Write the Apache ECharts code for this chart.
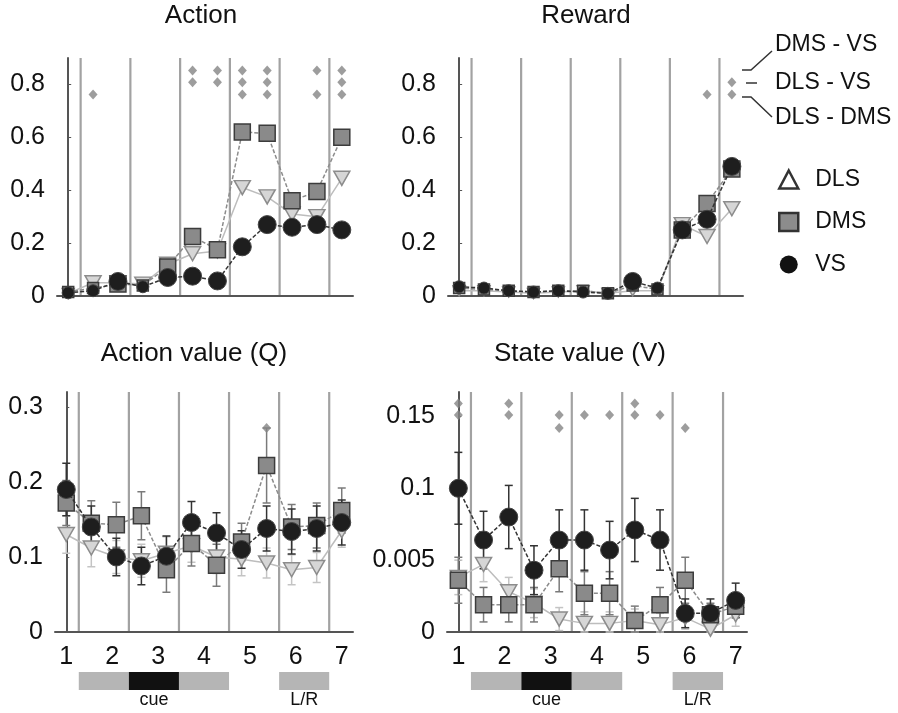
<!DOCTYPE html>
<html>
<head>
<meta charset="utf-8">
<script src="https://cdn.jsdelivr.net/npm/echarts@6.0.0/dist/echarts.min.js"></script>
<style>
html,body{margin:0;padding:0;background:#fff}
#main{width:898px;height:713px}
</style>
</head>
<body>
<div id="main"></div>
<script>
// time bins (12 half-epochs) and the epoch tick labels underneath
var steps = [0, 1, 2, 3, 4, 5, 6, 7, 8, 9, 10, 11];
var tickLabels = ['1', '2', '3', '4', '5', '6', '7'];
var epochLines = [0.5, 2.5, 4.5, 6.5, 8.5, 10.5];

// Action
var actVS  = [0.012, 0.02, 0.055, 0.035, 0.07, 0.075, 0.057, 0.186, 0.27, 0.26, 0.27, 0.25];
var actDMS = [0.015, 0.03, 0.045, 0.04, 0.11, 0.225, 0.175, 0.62, 0.615, 0.36, 0.395, 0.60];
var actDLS = [0.01, 0.05, 0.05, 0.045, 0.12, 0.16, 0.17, 0.41, 0.375, 0.31, 0.30, 0.445];
var actSig = [[1, 0.762], [5, 0.853], [5, 0.808], [6, 0.853], [6, 0.808], [7, 0.853], [7, 0.808], [7, 0.762],
              [8, 0.853], [8, 0.808], [8, 0.762], [10, 0.853], [10, 0.762], [11, 0.853], [11, 0.808], [11, 0.762]];

// Reward
var rewVS  = [0.035, 0.03, 0.02, 0.015, 0.02, 0.015, 0.01, 0.055, 0.03, 0.25, 0.29, 0.49];
var rewDMS = [0.03, 0.025, 0.02, 0.015, 0.02, 0.02, 0.01, 0.04, 0.025, 0.25, 0.35, 0.48];
var rewDLS = [0.02, 0.02, 0.015, 0.01, 0.015, 0.02, 0.01, 0.02, 0.02, 0.27, 0.225, 0.33];
var rewSig = [[10, 0.762], [11, 0.808], [11, 0.762]];

// Action value (Q)
var qVS     = [0.190, 0.140, 0.100, 0.088, 0.101, 0.146, 0.132, 0.110, 0.138, 0.134, 0.138, 0.146];
var qVSerr  = [0.035, 0.028, 0.025, 0.025, 0.027, 0.028, 0.027, 0.025, 0.03, 0.03, 0.03, 0.03];
var qDMS    = [0.172, 0.145, 0.143, 0.155, 0.083, 0.118, 0.089, 0.12, 0.222, 0.14, 0.142, 0.162];
var qDMSerr = [0.03, 0.03, 0.03, 0.032, 0.03, 0.03, 0.028, 0.025, 0.05, 0.03, 0.03, 0.03];
var qDLS    = [0.13, 0.112, 0.10, 0.095, 0.105, 0.115, 0.10, 0.097, 0.092, 0.083, 0.086, 0.135];
var qDLSerr = [0.025, 0.025, 0.022, 0.022, 0.022, 0.022, 0.022, 0.022, 0.02, 0.02, 0.02, 0.022];
var qSig    = [[8, 0.272]];

// State value (V)
var vVS     = [0.100, 0.064, 0.080, 0.043, 0.064, 0.064, 0.057, 0.071, 0.064, 0.013, 0.013, 0.022];
var vVSerr  = [0.025, 0.02, 0.022, 0.017, 0.021, 0.021, 0.02, 0.022, 0.021, 0.01, 0.01, 0.012];
var vDMS    = [0.036, 0.019, 0.019, 0.019, 0.044, 0.027, 0.027, 0.008, 0.019, 0.036, 0.012, 0.018];
var vDMSerr = [0.016, 0.012, 0.012, 0.012, 0.016, 0.015, 0.015, 0.01, 0.012, 0.016, 0.008, 0.008];
var vDLS    = [0.038, 0.047, 0.028, 0.02, 0.009, 0.006, 0.006, 0.008, 0.005, 0.01, 0.002, 0.012];
var vDLSerr = [0.012, 0.012, 0.01, 0.01, 0.008, 0.008, 0.008, 0.008, 0.008, 0.008, 0.006, 0.008];
var vSig    = [[0, 0.159], [0, 0.151], [2, 0.159], [2, 0.151], [4, 0.151], [4, 0.142], [5, 0.151],
               [6, 0.151], [7, 0.159], [7, 0.151], [8, 0.151], [9, 0.142]];
var vTickLabels = ['0', '0.005', '0.1', '0.15'];

// task events under the bottom panels
var barStart  = [0.5, 2.5, 4.5, 8.5];
var barEnd    = [2.5, 4.5, 6.5, 10.5];
var barColor  = ['#b5b5b5', '#111111', '#b5b5b5', '#b5b5b5'];
var barLabel  = ['', 'cue', '', 'L/R'];

var FONT = 'Liberation Sans';
var triDown = 'path://M0,0 L10,0 L5,9 Z';

var grids = [
    {left: 57, top: 58, width: 296, height: 238},
    {left: 448, top: 58, width: 295, height: 238},
    {left: 55, top: 392, width: 298, height: 240},
    {left: 447, top: 392, width: 300, height: 240}
];
var yMax = [0.9, 0.9, 0.32, 0.167];
var yStep = [0.2, 0.2, 0.1, 0.05];

function pts(vals) {
    return steps.map(function (k, i) { return [k, vals[i]]; });
}

// markers in the top panels are drawn smaller when they sit on the floor
function sizeFor(gi, big, small) {
    if (gi >= 2) return big;
    return function (val) { return val[1] < 0.045 ? small : big; };
}

var xAxes = grids.map(function (g, i) {
    var bottom = i >= 2;
    return {
        type: 'value', gridIndex: i, min: -0.45, max: 11.45,
        axisLine: {show: true, onZero: false, lineStyle: {color: '#555', width: 2}},
        axisTick: {show: false},
        splitLine: {show: false},
        axisLabel: {
            show: bottom,
            customValues: tickLabels.map(function (t, j) { return j * 11 / 6; }),
            formatter: function (v) { return tickLabels[Math.round(v * 6 / 11)]; },
            fontSize: 25, fontFamily: FONT, color: '#111', margin: 13
        }
    };
});

var yAxes = grids.map(function (g, i) {
    return {
        type: 'value', gridIndex: i, min: 0, max: yMax[i], interval: yStep[i],
        axisLine: {show: true, lineStyle: {color: '#555', width: 2}},
        axisTick: {show: true, inside: true, length: 3, lineStyle: {color: '#555'}},
        splitLine: {show: false},
        axisLabel: {
            showMaxLabel: false,
            fontSize: 25, fontFamily: FONT, color: '#111', margin: 12,
            formatter: i === 3 ? function (v) { return vTickLabels[Math.round(v / 0.05)]; } : null
        }
    };
});

function gridLineSeries(gi) {
    return {
        type: 'custom', xAxisIndex: gi, yAxisIndex: gi, silent: true, z: 0,
        data: epochLines.map(function (v) { return [v, 0]; }),
        encode: {x: 0, y: 1},
        renderItem: function (params, api) {
            var x = api.coord([api.value(0), 0])[0];
            var cs = params.coordSys;
            return {type: 'line', shape: {x1: x, y1: cs.y, x2: x, y2: cs.y + cs.height},
                    style: {stroke: '#a2a2a2', lineWidth: 2.2}};
        }
    };
}

function errSeries(gi, vals, errs, color) {
    return {
        type: 'custom', xAxisIndex: gi, yAxisIndex: gi, silent: true, z: 1,
        data: steps.map(function (k, i) { return [k, vals[i], errs[i]]; }),
        encode: {x: 0, y: 1},
        renderItem: function (params, api) {
            var x = api.value(0), y = api.value(1), e = api.value(2);
            var hi = api.coord([x, y + e]), lo = api.coord([x, Math.max(0, y - e)]);
            var w = 4, st = {stroke: color, lineWidth: 1.5};
            return {type: 'group', children: [
                {type: 'line', shape: {x1: hi[0], y1: hi[1], x2: lo[0], y2: lo[1]}, style: st},
                {type: 'line', shape: {x1: hi[0] - w, y1: hi[1], x2: hi[0] + w, y2: hi[1]}, style: st},
                {type: 'line', shape: {x1: lo[0] - w, y1: lo[1], x2: lo[0] + w, y2: lo[1]}, style: st}
            ]};
        }
    };
}

function dls(gi, vals) {
    return {
        name: 'DLS', type: 'line', xAxisIndex: gi, yAxisIndex: gi, z: 2,
        data: pts(vals), symbol: triDown,
        symbolSize: gi >= 2 ? [16, 14] : function (v) { return v[1] < 0.045 ? [12, 10] : [16, 14]; },
        lineStyle: {color: '#bdbdbd', width: 1.5},
        itemStyle: {color: '#d6d6d6', borderColor: '#8c8c8c', borderWidth: 1.5}
    };
}
function dms(gi, vals) {
    return {
        name: 'DMS', type: 'line', xAxisIndex: gi, yAxisIndex: gi, z: 3,
        data: pts(vals), symbol: 'rect', symbolSize: sizeFor(gi, 16, 11),
        lineStyle: {color: '#8c8c8c', width: 1.5, type: [4, 2]},
        itemStyle: {color: '#8a8a8a', borderColor: '#3c3c3c', borderWidth: 1.5}
    };
}
function vs(gi, vals) {
    return {
        name: 'VS', type: 'line', xAxisIndex: gi, yAxisIndex: gi, z: 4,
        data: pts(vals), symbol: 'circle', symbolSize: sizeFor(gi, 18, 12),
        lineStyle: {color: '#333', width: 1.5, type: [4, 2]},
        itemStyle: {color: '#1e1e1e', borderColor: '#444', borderWidth: 1}
    };
}
function sig(gi, list) {
    return {
        type: 'scatter', xAxisIndex: gi, yAxisIndex: gi, z: 5, silent: true,
        data: list, symbol: 'diamond', symbolSize: [9, 10],
        itemStyle: {color: '#858585'}
    };
}
function eventBars(gi) {
    return {
        type: 'custom', xAxisIndex: gi, yAxisIndex: gi, silent: true, clip: false,
        data: barStart.map(function (s, i) { return [s, barEnd[i]]; }),
        encode: {x: [0, 1]},
        renderItem: function (params, api) {
            var i = params.dataIndex;
            var p1 = api.coord([barStart[i], 0]), p2 = api.coord([barEnd[i], 0]);
            var top = p1[1] + 40, h = 18;
            var kids = [{type: 'rect', shape: {x: p1[0], y: top, width: p2[0] - p1[0], height: h},
                         style: {fill: barColor[i]}}];
            if (barLabel[i]) {
                kids.push({type: 'text', style: {text: barLabel[i], x: (p1[0] + p2[0]) / 2, y: top + h + 1,
                    align: 'center', verticalAlign: 'top', fontSize: 18, fontFamily: FONT, fill: '#111'}});
            }
            return {type: 'group', children: kids};
        }
    };
}

var series = [
    gridLineSeries(0), dls(0, actDLS), dms(0, actDMS), vs(0, actVS), sig(0, actSig),
    gridLineSeries(1), dls(1, rewDLS), dms(1, rewDMS), vs(1, rewVS), sig(1, rewSig),
    gridLineSeries(2), errSeries(2, qDLS, qDLSerr, '#c4c4c4'), errSeries(2, qDMS, qDMSerr, '#7a7a7a'),
    errSeries(2, qVS, qVSerr, '#333'), dls(2, qDLS), dms(2, qDMS), vs(2, qVS), sig(2, qSig), eventBars(2),
    gridLineSeries(3), errSeries(3, vDLS, vDLSerr, '#c4c4c4'), errSeries(3, vDMS, vDMSerr, '#7a7a7a'),
    errSeries(3, vVS, vVSerr, '#333'), dls(3, vDLS), dms(3, vDMS), vs(3, vVS), sig(3, vSig), eventBars(3)
];

function label(text, x, y, size) {
    return {type: 'text', x: x, y: y, silent: true,
            style: {text: text, align: 'left', verticalAlign: 'middle', fontSize: size, fontFamily: FONT, fill: '#111'}};
}
function title(text, x, y) {
    return {type: 'text', x: x, y: y, silent: true,
            style: {text: text, align: 'center', verticalAlign: 'middle', fontSize: 26, fontFamily: FONT, fill: '#111'}};
}
var bracket = {stroke: '#333', lineWidth: 1.5, fill: null};

var option = {
    animation: false,
    backgroundColor: '#fff',
    grid: grids,
    xAxis: xAxes,
    yAxis: yAxes,
    legend: {
        orient: 'vertical', left: 773, top: 163,
        itemWidth: 19, itemHeight: 18, itemGap: 19.5,
        textStyle: {fontSize: 23, fontFamily: FONT, color: '#111', lineHeight: 18, padding: [0, 0, 0, 12]},
        data: [
            {name: 'DLS', icon: 'triangle', itemStyle: {color: '#fff', borderColor: '#333', borderWidth: 2.5}},
            {name: 'DMS', icon: 'rect', itemStyle: {color: '#8c8c8c', borderColor: '#333', borderWidth: 2.5}},
            {name: 'VS', icon: 'circle', itemStyle: {color: '#111', borderWidth: 0}}
        ]
    },
    graphic: [
        title('Action', 201, 16),
        title('Reward', 586, 16),
        title('Action value (Q)', 194, 354),
        title('State value (V)', 580, 354),
        label('DMS - VS', 775, 45, 23),
        label('DLS - VS', 775, 83, 23),
        label('DLS - DMS', 775, 118, 23),
        {type: 'polyline', silent: true, shape: {points: [[742, 70], [751, 70], [772, 51]]}, style: bracket},
        {type: 'line', silent: true, shape: {x1: 746, y1: 83, x2: 757, y2: 83}, style: bracket},
        {type: 'polyline', silent: true, shape: {points: [[742, 97], [751, 97], [772, 117]]}, style: bracket}
    ],
    series: series
};

var chart = echarts.init(document.getElementById('main'));
chart.setOption(option);
</script>
</body>
</html>
